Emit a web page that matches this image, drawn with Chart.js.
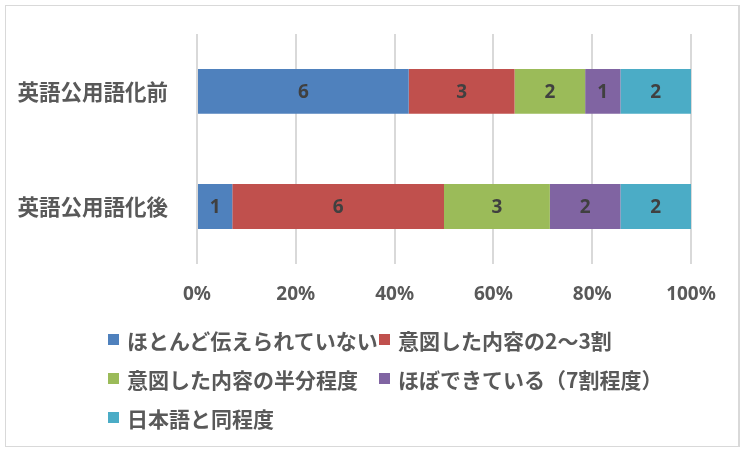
<!DOCTYPE html>
<html lang="ja">
<head>
<meta charset="utf-8">
<title>英語公用語化前後</title>
<script src="https://cdn.jsdelivr.net/npm/chart.js@4.4.1/dist/chart.umd.min.js"></script>
<style>
    html, body { margin: 0; padding: 0; background: #fff; }
    #wrap { position: relative; width: 747px; height: 457px; }
    #frame {
        position: absolute; left: 5px; top: 5px; width: 732px; height: 440px;
        border: 1px solid #d9d9d9; border-right-width: 2px;
    }
    #chart { position: absolute; left: 0; top: 0; }
    #legend {
        position: absolute; left: 108px; top: 320px; margin: 0; padding: 0;
        list-style: none; display: grid; grid-template-columns: 271px auto; grid-auto-rows: 39px;
        font: bold 21px "Noto Sans CJK JP"; color: #595959;
    }
    #legend li { display: flex; align-items: center; white-space: nowrap; }
    #legend .box { width: 11px; height: 11px; margin-right: 8px; flex: none; }
</style>
</head>
<body>
<div id="wrap">
    <div id="frame"></div>
    <canvas id="chart" width="747" height="457"></canvas>
    <ul id="legend"></ul>
</div>
<script>
// categories (top to bottom)
const categories = ['英語公用語化前', '英語公用語化後'];

// series names
const seriesNames = [
    'ほとんど伝えられていない',
    '意図した内容の2～3割',
    '意図した内容の半分程度',
    'ほぼできている（7割程度）',
    '日本語と同程度'
];

// counts per series, one value per category
const notConveyed = [6, 1];
const twoToThree = [3, 6];
const aboutHalf = [2, 3];
const mostly = [1, 2];
const sameAsJapanese = [2, 2];

const seriesValues = [notConveyed, twoToThree, aboutHalf, mostly, sameAsJapanese];
const seriesColors = ['#4f81bd', '#c0504d', '#9bbb59', '#8064a2', '#4bacc6'];

// x axis tick values (percent)
const xTicks = [0, 20, 40, 60, 80, 100];

// totals for 100% stacking
const totals = categories.map((c, j) => seriesValues.reduce((sum, s) => sum + s[j], 0));

const datasets = seriesNames.map((name, i) => ({
    label: name,
    counts: seriesValues[i],
    data: seriesValues[i].map((v, j) => v / totals[j] * 100),
    backgroundColor: seriesColors[i],
    borderWidth: 0,
    barPercentage: 0.39,
    categoryPercentage: 1
}));

// draw the count in the middle of each segment
const segmentLabels = {
    id: 'segmentLabels',
    afterDatasetsDraw(chart) {
        const ctx = chart.ctx;
        ctx.save();
        ctx.font = 'bold 19px "Noto Sans"';
        ctx.fillStyle = '#404040';
        ctx.textAlign = 'center';
        ctx.textBaseline = 'middle';
        chart.data.datasets.forEach((ds, i) => {
            chart.getDatasetMeta(i).data.forEach((bar, j) => {
                ctx.fillText(ds.counts[j], (bar.x + bar.base) / 2, bar.y + 1);
            });
        });
        ctx.restore();
    }
};

// html legend laid out in two columns
const htmlLegend = {
    id: 'htmlLegend',
    afterUpdate(chart) {
        const list = document.getElementById('legend');
        list.innerHTML = '';
        const items = chart.options.plugins.legend.labels.generateLabels(chart);
        items.forEach(item => {
            const li = document.createElement('li');
            li.innerHTML = `<span class="box" style="background:${item.fillStyle}"></span><span>${item.text}</span>`;
            list.appendChild(li);
        });
    }
};

new Chart(document.getElementById('chart'), {
    type: 'bar',
    data: { labels: categories, datasets: datasets },
    options: {
        indexAxis: 'y',
        responsive: false,
        animation: false,
        devicePixelRatio: 1,
        layout: { padding: { top: 29, right: 56, bottom: 0, left: 0 } },
        plugins: {
            legend: { display: false },
            tooltip: { enabled: false }
        },
        scales: {
            x: {
                stacked: true,
                min: 0,
                max: 100,
                afterBuildTicks: scale => { scale.ticks = xTicks.map(v => ({ value: v })); },
                afterFit: scale => { scale.height = 193; },
                grid: { color: '#d9d9d9', lineWidth: 2, drawTicks: false },
                border: { display: false },
                ticks: {
                    padding: 19,
                    color: '#595959',
                    font: { family: '"Noto Sans"', size: 19, weight: 'bold' },
                    callback: v => v + '%'
                }
            },
            y: {
                stacked: true,
                afterFit: scale => { scale.width = 197; },
                grid: { display: false },
                border: { display: false },
                ticks: {
                    padding: 21,
                    color: '#595959',
                    font: { family: '"Noto Sans CJK JP"', size: 21.5, weight: 'bold' }
                }
            }
        }
    },
    plugins: [segmentLabels, htmlLegend]
});
</script>
</body>
</html>
